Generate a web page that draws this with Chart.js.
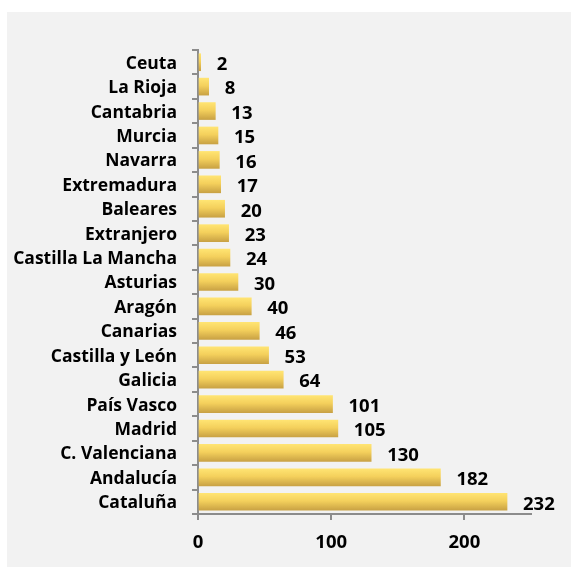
<!DOCTYPE html>
<html>
<head>
<meta charset="utf-8">
<script src="https://cdn.jsdelivr.net/npm/chart.js@4"></script>
<style>
  body { margin: 0; background: #ffffff; }
  #panel { position: absolute; left: 7px; top: 12px; width: 564px; height: 555px; background: #f2f2f2; }
</style>
</head>
<body>
<div id="panel"><canvas id="regionChart" width="564" height="555"></canvas></div>
<script>
const regions = [
  "Ceuta", "La Rioja", "Cantabria", "Murcia", "Navarra", "Extremadura", "Baleares",
  "Extranjero", "Castilla La Mancha", "Asturias", "Aragón", "Canarias", "Castilla y León",
  "Galicia", "País Vasco", "Madrid", "C. Valenciana", "Andalucía", "Cataluña"
];
const counts = [2, 8, 13, 15, 16, 17, 20, 23, 24, 30, 40, 46, 53, 64, 101, 105, 130, 182, 232];
const xTicks = [0, 100, 200];

const FONT = "'Open Sans', Lato, sans-serif";
const BAR_H = 17;
const AXIS_GREY = "#8c8c8c";

function barGradient(context) {
  const chart = context.chart;
  const yScale = chart.scales.y;
  if (!yScale || context.dataIndex === undefined) return "#f5cf5a";
  const y = yScale.getPixelForValue(context.dataIndex);
  if (!Number.isFinite(y)) return "#f5cf5a";
  const g = chart.ctx.createLinearGradient(0, y - BAR_H / 2, 0, y + BAR_H / 2);
  g.addColorStop(0, "#ffe472");
  g.addColorStop(0.45, "#f4d05c");
  g.addColorStop(1, "#c9a244");
  return g;
}

const valueLabels = {
  id: "valueLabels",
  afterDatasetsDraw(chart) {
    const ctx = chart.ctx;
    const meta = chart.getDatasetMeta(0);
    ctx.save();
    ctx.font = `bold 18.5px ${FONT}`;
    ctx.fillStyle = "#000000";
    ctx.textAlign = "left";
    ctx.textBaseline = "middle";
    meta.data.forEach((bar, i) => {
      ctx.fillText(String(counts[i]), bar.x + 16, bar.y + 2.5);
    });
    ctx.restore();
  }
};

new Chart(document.getElementById("regionChart"), {
  type: "bar",
  data: {
    labels: regions,
    datasets: [{
      data: counts,
      backgroundColor: barGradient,
      barThickness: BAR_H,
      borderWidth: 0
    }]
  },
  options: {
    indexAxis: "y",
    responsive: false,
    animation: false,
    layout: { padding: { top: 38, right: 40, left: 0, bottom: 0 } },
    plugins: {
      legend: { display: false },
      tooltip: { enabled: false }
    },
    scales: {
      x: {
        min: 0,
        max: 250,
        afterBuildTicks: (scale) => {
          scale.ticks = xTicks.map((v) => ({ value: v }));
        },
        afterFit: (scale) => { scale.height = 53; },
        border: { color: AXIS_GREY, width: 2 },
        grid: { drawOnChartArea: false, color: AXIS_GREY, tickLength: 6, lineWidth: 2 },
        ticks: { color: "#000000", padding: 12, font: { family: FONT, size: 18.5, weight: "bold" } }
      },
      y: {
        afterFit: (scale) => { scale.width = 191; },
        border: { color: AXIS_GREY, width: 2 },
        grid: { drawOnChartArea: false, color: AXIS_GREY, tickLength: 6, lineWidth: 2, offset: true },
        ticks: { color: "#000000", padding: 15, labelOffset: 1.5, autoSkip: false, font: { family: FONT, size: 17.5, weight: "bold" } }
      }
    }
  },
  plugins: [valueLabels]
});
</script>
</body>
</html>
